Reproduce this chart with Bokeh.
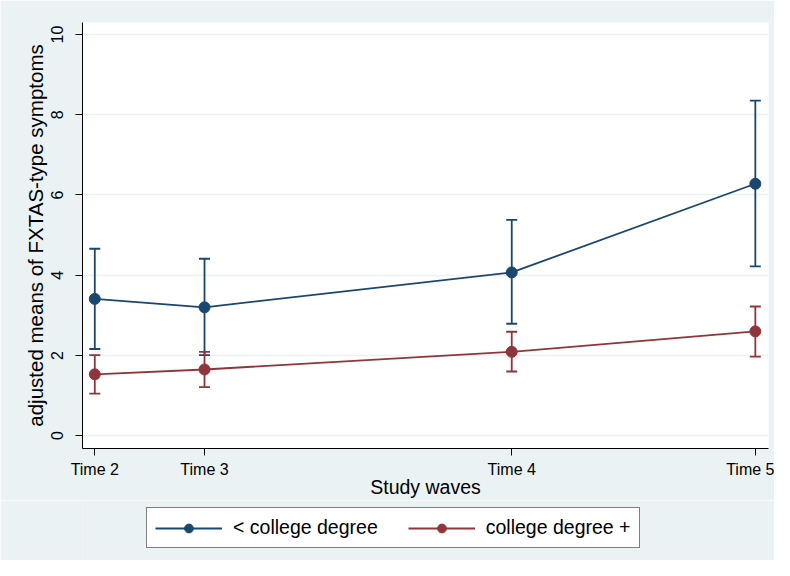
from bokeh.plotting import figure
from bokeh.layouts import column
from bokeh.models import (ColumnDataSource, Whisker, TeeHead, Legend, LegendItem,
                          FixedTicker, Range1d)
from bokeh.embed import file_html
from bokeh.resources import INLINE

# ---- data ----
waves = ["Time 2", "Time 3", "Time 4", "Time 5"]
wave_x = [0.0, 1.0, 3.80, 6.02]

low_mean = [3.41, 3.20, 4.07, 6.28]
low_lo = [2.16, 2.01, 2.79, 4.22]
low_hi = [4.66, 4.41, 5.38, 8.35]

high_mean = [1.53, 1.65, 2.09, 2.60]
high_lo = [1.05, 1.21, 1.60, 1.97]
high_hi = [2.01, 2.09, 2.59, 3.22]

y_ticks = [0, 2, 4, 6, 8, 10]
series_labels = ["< college degree", "college degree +"]

BLUE = "#1A476F"
RED = "#90353B"
BG = "#EAF2F3"
FONT = "Liberation Sans"

p = figure(width=774, height=500, output_backend="svg", toolbar_location=None,
           x_range=Range1d(-0.112, 6.14), y_range=Range1d(-0.32, 10.3),
           min_border_left=82, min_border_right=6, min_border_top=22,
           min_border_bottom=52)
p.background_fill_color = "white"
p.border_fill_color = BG
p.outline_line_color = None

# grid
p.xgrid.grid_line_color = None
p.ygrid.grid_line_color = BG
p.ygrid.grid_line_width = 1.5
p.ygrid.ticker = FixedTicker(ticks=y_ticks)

# axes
p.xaxis.ticker = FixedTicker(ticks=wave_x)
p.xaxis.major_label_overrides = {x: w for x, w in zip(wave_x, waves)}
p.yaxis.ticker = FixedTicker(ticks=y_ticks)
p.yaxis.major_label_orientation = "vertical"
for ax in (p.xaxis, p.yaxis):
    ax.axis_line_color = "black"
    ax.axis_line_width = 1
    ax.major_tick_line_color = "black"
    ax.major_tick_out = 7
    ax.major_tick_in = 0
    ax.minor_tick_line_color = None
    ax.major_label_text_font = FONT
    ax.major_label_text_font_size = "16px"
    ax.major_label_text_color = "black"
    ax.axis_label_text_font = FONT
    ax.axis_label_text_font_style = "normal"
    ax.axis_label_text_color = "black"
p.xaxis.axis_label_text_font_size = "19.5px"
p.yaxis.axis_label_text_font_size = "20.5px"
p.xaxis.axis_label = "Study waves"
p.yaxis.axis_label = "adjusted means of FXTAS-type symptoms"
p.xaxis.major_label_standoff = 5
p.xaxis.axis_label_standoff = -5
p.yaxis.major_label_standoff = 12
p.yaxis.axis_label_standoff = 2

src_low = ColumnDataSource(dict(x=wave_x, y=low_mean, lo=low_lo, hi=low_hi))
src_high = ColumnDataSource(dict(x=wave_x, y=high_mean, lo=high_lo, hi=high_hi))

for src, col in ((src_low, BLUE), (src_high, RED)):
    w = Whisker(source=src, base="x", lower="lo", upper="hi", dimension="height",
                line_color=col, line_width=1.8,
                upper_head=TeeHead(size=11, line_color=col, line_width=1.8),
                lower_head=TeeHead(size=11, line_color=col, line_width=1.8))
    p.add_layout(w)
    p.line("x", "y", source=src, line_color=col, line_width=1.8)
    p.scatter("x", "y", source=src, size=11, fill_color=col, line_color=col)

# ---- legend strip below the plot (its own ranges keep the series out of view) ----
q = figure(width=774, height=60, output_backend="svg", toolbar_location=None,
           x_range=Range1d(100, 101), y_range=Range1d(100, 101),
           min_border_left=82, min_border_right=6, min_border_top=0,
           min_border_bottom=0, x_axis_type=None, y_axis_type=None)
q.background_fill_color = BG
q.border_fill_color = BG
q.outline_line_color = None
q.xgrid.visible = False
q.ygrid.visible = False

items = []
for lab, src, col in zip(series_labels, (src_low, src_high), (BLUE, RED)):
    ln = q.line("x", "y", source=src, line_color=col, line_width=1.8)
    sc = q.scatter("x", "y", source=src, size=11, fill_color=col, line_color=col)
    items.append(LegendItem(label=lab, renderers=[ln, sc], index=0))

legend = Legend(items=items, orientation="horizontal", location=(64, 12))
legend.label_text_font = FONT
legend.label_text_font_size = "19.5px"
legend.label_text_color = "black"
legend.glyph_width = 67
legend.glyph_height = 22
legend.label_standoff = 11
legend.spacing = 30
legend.padding = 8
legend.margin = 0
legend.border_line_color = "black"
legend.border_line_width = 1
legend.background_fill_color = "white"
legend.background_fill_alpha = 1
q.add_layout(legend, "center")

layout = column(p, q, spacing=0)
open("out.html", "w").write(file_html(layout, INLINE))
